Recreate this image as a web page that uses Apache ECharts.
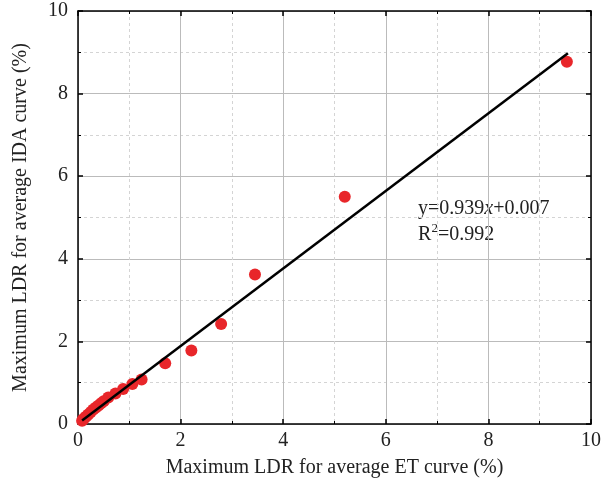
<!DOCTYPE html>
<html><head><meta charset="utf-8">
<script src="https://cdn.jsdelivr.net/npm/echarts@6/dist/echarts.min.js"></script>
<style>html,body{margin:0;padding:0;background:#fff}#c{width:612px;height:485px}</style>
</head><body><div id="c"></div>
<script>
const xVals = [9.53, 5.20, 3.45, 2.79, 2.21, 1.70, 1.24, 1.06, 0.88, 0.73, 0.59, 0.50, 0.45, 0.40, 0.35, 0.30, 0.25, 0.20, 0.16, 0.12, 0.10, 0.08];
const yVals = [8.77, 5.50, 3.62, 2.42, 1.78, 1.47, 1.08, 0.97, 0.85, 0.74, 0.64, 0.55, 0.50, 0.45, 0.40, 0.35, 0.29, 0.23, 0.18, 0.14, 0.11, 0.08];
const slope = 0.939, intercept = 0.007;
const fitX = [0.08, 9.55];
const xTicks = [0, 2, 4, 6, 8, 10];
const yTicks = [0, 2, 4, 6, 8, 10];

const pts = xVals.map((x, i) => [x, yVals[i]]);
const fitLine = fitX.map(x => [x, slope * x + intercept]);
const font = 'Liberation Serif';

const baseAxis = {
  min: 0, max: 10, interval: 2,
  axisLine: {show: true, onZero: false, lineStyle: {color: '#000', width: 1.5}},
  axisTick: {show: true, inside: true, length: 5, lineStyle: {color: '#000', width: 1.5}},
  minorTick: {show: true, splitNumber: 2, length: 3, lineStyle: {color: '#000', width: 1}},
};
const chart = echarts.init(document.getElementById('c'));
chart.setOption({
  animation: false,
  grid: {left: 78, right: 21, top: 11, bottom: 61},
  xAxis: [
    Object.assign({}, baseAxis, {
      type: 'value', position: 'bottom',
      name: 'Maximum LDR for average ET curve (%)', nameLocation: 'middle', nameGap: 34,
      nameTextStyle: {fontFamily: font, fontSize: 20, color: '#222'},
      axisLabel: {fontFamily: font, fontSize: 20, color: '#222', margin: 7,
        formatter: v => xTicks.includes(v) ? String(v) : ''},
      splitLine: {show: true, lineStyle: {color: '#bbb', width: 1}},
      minorSplitLine: {show: true, lineStyle: {color: '#d4d4d4', width: 1, type: [3, 3]}}
    }),
    Object.assign({}, baseAxis, {
      type: 'value', position: 'top', axisLabel: {show: false}, splitLine: {show: false}
    })
  ],
  yAxis: [
    Object.assign({}, baseAxis, {
      type: 'value', position: 'left',
      name: 'Maximum LDR for average IDA curve (%)', nameLocation: 'middle', nameGap: 47,
      nameTextStyle: {fontFamily: font, fontSize: 20, color: '#222'},
      axisLabel: {fontFamily: font, fontSize: 20, color: '#222', margin: 10,
        formatter: v => yTicks.includes(v) ? String(v) : ''},
      splitLine: {show: true, lineStyle: {color: '#bbb', width: 1}},
      minorSplitLine: {show: true, lineStyle: {color: '#d4d4d4', width: 1, type: [3, 3]}}
    }),
    Object.assign({}, baseAxis, {
      type: 'value', position: 'right', axisLabel: {show: false}, splitLine: {show: false}
    })
  ],
  series: [
    {
      type: 'scatter', data: pts, symbolSize: 12,
      itemStyle: {color: '#e8262a', opacity: 1}, z: 3
    },
    {
      type: 'line', data: fitLine, symbol: 'none',
      lineStyle: {color: '#000', width: 2.5}, z: 4
    }
  ],
  graphic: [
    {type: 'text', left: 418, top: 199, style: {
      text: '{n|y=0.939}{i|x}{n|+0.007}',
      rich: {n: {fontFamily: font, fontSize: 20, fill: '#222'}, i: {fontFamily: font, fontSize: 20, fontStyle: 'italic', fill: '#222'}}
    }},
    {type: 'text', left: 418, top: 225, style: {text: 'R', fontFamily: font, fontSize: 20, fill: '#222'}},
    {type: 'text', left: 431.5, top: 222, style: {text: '2', fontFamily: font, fontSize: 13, fill: '#222'}},
    {type: 'text', left: 438, top: 225, style: {text: '=0.992', fontFamily: font, fontSize: 20, fill: '#222'}}
  ]
});
</script></body></html>
